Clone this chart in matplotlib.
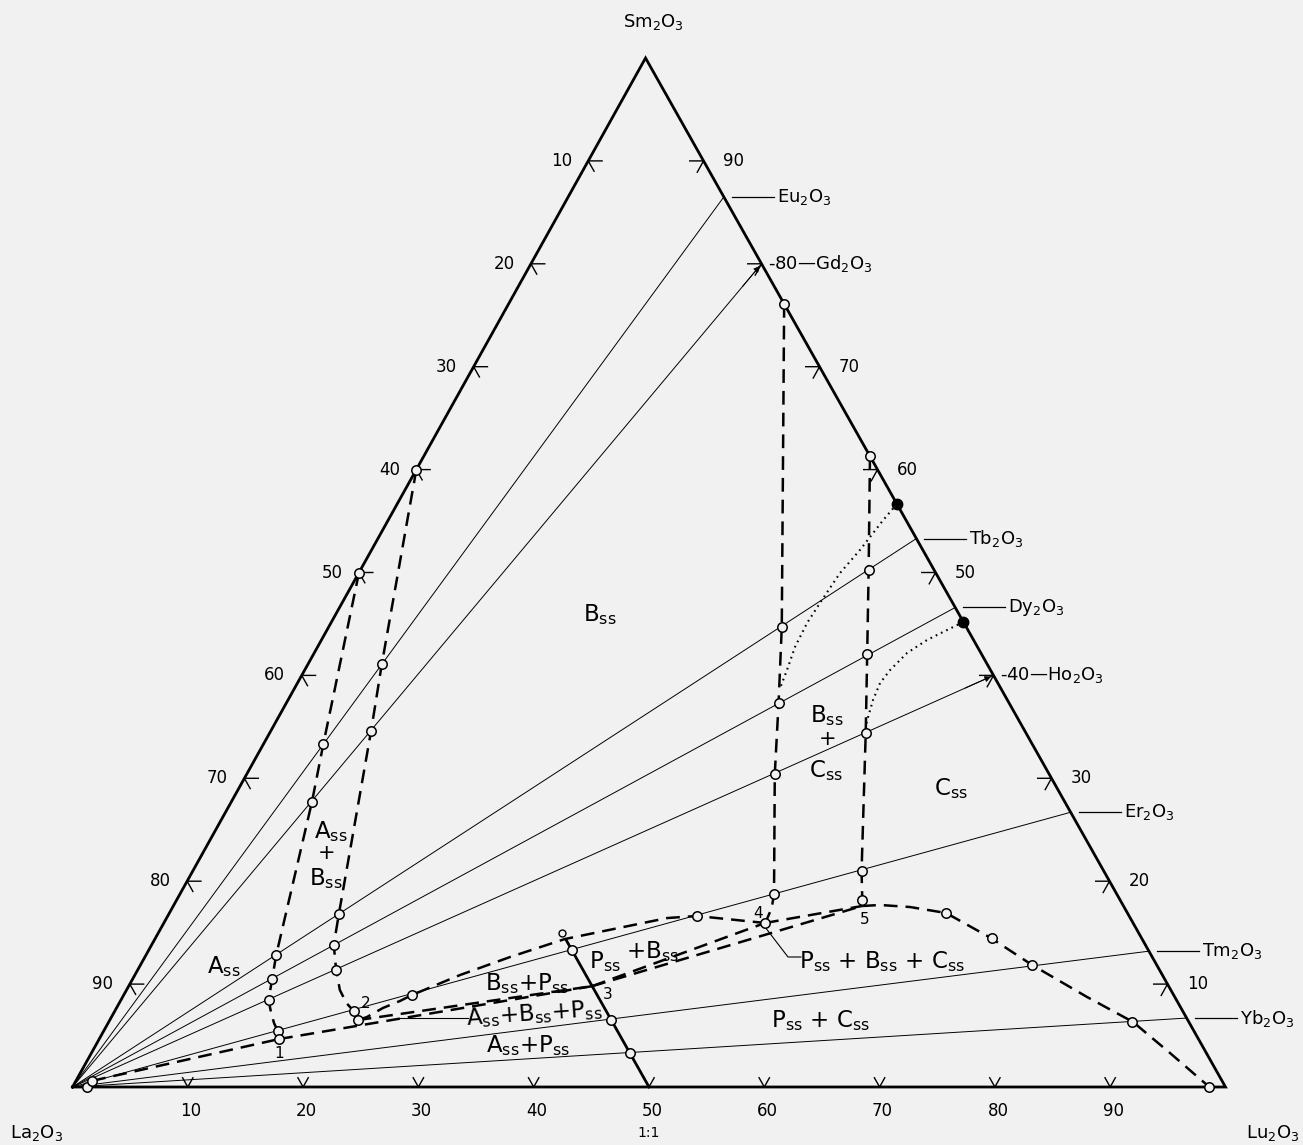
import numpy as np
import matplotlib
matplotlib.use('Agg')
import matplotlib.pyplot as plt

plt.rcParams['font.family'] = ['DejaVu Sans']
plt.rcParams['mathtext.default'] = 'regular'

# every composition below is (mol % Lu2O3, mol % Sm2O3); La2O3 is the rest

# La2O3-R2O3 joins, given by Sm2O3 % where they meet the Sm2O3-Lu2O3 side
re_names = ['Eu', 'Gd', 'Tb', 'Dy', 'Ho', 'Er', 'Tm', 'Yb']
re_sm = [86.5, 80, 53.3, 46.6, 40, 26.7, 13.2, 6.7]

# A_ss / A_ss+B_ss boundary
a_lu = [0, 5.2, 7.0, 11.3, 12.1, 12.8, 13.65, 14.4, 15.1, 15.6]
a_sm = [50, 33.3, 27.7, 12.8, 10.5, 8.45, 7.2, 6.2, 5.44, 4.66]

# B_ss / A_ss+B_ss boundary
b_lu = [0, 6.4, 8.7, 14.75, 15.8, 17.2, 18.5, 19.7, 20.7, 21.5]
b_sm = [60, 41.1, 34.6, 16.8, 13.8, 11.4, 9.43, 8.16, 7.4, 6.5]

# A_ss edge near La2O3 (from the La2O3-rich point to point 1)
aa_lu = [1.4, 15.6]
aa_sm = [0.6, 4.66]

# B_ss / B_ss+P_ss boundary, point 2 to point 4
bp_lu = [21.5, 22.16, 23.11, 24.25, 25.0, 28.2, 31.67, 35.56, 40.8, 43.42, 45.9, 52.14]
bp_sm = [6.5, 6.8, 7.68, 8.36, 8.94, 10.88, 12.63, 14.38, 15.74, 16.42, 16.62, 15.94]

# invariant points 1..5
inv_lu = [15.6, 21.5, 40.2, 52.14, 59.74]
inv_sm = [4.66, 6.5, 9.8, 15.94, 17.59]

# B_ss / B_ss+C_ss boundary
bc_lu = [23.9, 39.3, 42.7, 45.8, 51.5, 52.0, 52.1, 52.14]
bc_sm = [76.1, 44.7, 37.3, 30.4, 18.8, 17.4, 16.5, 15.94]

# C_ss / B_ss+C_ss boundary
cb_lu = [38.7, 44.1, 48.0, 51.7, 58.0, 59.45, 59.74]
cb_sm = [61.3, 50.2, 42.1, 34.4, 21.0, 18.2, 17.59]

# C_ss / P_ss+C_ss boundary
cp_lu = [59.74, 61.25, 63.95, 67.36, 72.46, 77.33, 83.64, 88.84, 93.55, 98.6]
cp_sm = [17.59, 17.69, 17.49, 16.91, 14.48, 11.86, 8.75, 6.32, 3.30, 0]

# perovskite join La(Lu,Sm)O3
p_lu = [50, 35.8]
p_sm = [0, 14.2]

# dotted boundaries from the filled points
dot1_lu = [43.34, 42.93, 42.36, 41.74, 41.45, 41.30, 41.41, 41.83, 42.1]
dot1_sm = [56.66, 55.10, 52.19, 49.95, 47.04, 45.09, 42.76, 40.52, 38.78]
dot2_lu = [54.81, 53.78, 52.52, 51.42, 50.77, 50.53, 50.74, 51.13, 51.34]
dot2_sm = [45.19, 44.41, 43.44, 42.18, 40.52, 39.26, 37.61, 35.96, 35.18]
filled_lu = [43.34, 54.81]
filled_sm = [56.66, 45.19]

# open circles (experimental compositions)
open_lu = [1.3, 1.4,
           0, 5.2, 7.0, 11.3, 12.1, 12.8, 15.1, 15.6,
           0, 6.4, 8.7, 14.75, 15.8, 17.2, 20.7, 21.5,
           25.0, 45.9, 52.14,
           36.7, 43.5, 46.7,
           23.9, 39.3, 42.7, 45.8, 51.5,
           38.7, 44.1, 48.0, 51.7, 58.0, 59.45,
           67.4, 72.5, 77.3, 88.8, 98.6]
open_sm = [0, 0.6,
           50, 33.3, 27.7, 12.8, 10.5, 8.45, 5.44, 4.66,
           60, 41.1, 34.6, 16.8, 13.8, 11.4, 7.4, 6.5,
           8.94, 16.6, 15.94,
           13.3, 6.5, 3.3,
           76.1, 44.7, 37.3, 30.4, 18.8,
           61.3, 50.2, 42.1, 34.4, 21.0, 18.2,
           16.9, 14.5, 11.9, 6.3, 0]
small_lu = [35.0]
small_sm = [15.0]

ticks = [10, 20, 30, 40, 50, 60, 70, 80, 90]

BG = '#f1f1f1'
APEX = 0.497  # the drawn apex sits slightly left of centre


def tern(lu, sm):
    lu = np.asarray(lu, dtype=float)
    sm = np.asarray(sm, dtype=float)
    return (lu + APEX * sm) / 100.0, sm / 100.0


def px(x, y):
    # page pixel -> axes units, only for placing text
    return (x - 72.5) / 1153.0, (1087 - y) / 1029.0


PX = 1 / 1153.0
PY = 1 / 1029.0

fig = plt.figure(figsize=(13.03, 11.45), dpi=100, facecolor=BG)
ax = fig.add_axes([72.5 / 1303, 58 / 1145, 1153 / 1303, 1029 / 1145])
ax.set_xlim(0, 1)
ax.set_ylim(0, 1)
ax.axis('off')
ax.set_facecolor(BG)

# triangle
x, y = tern([0, 100, 0, 0], [0, 0, 100, 0])
ax.plot(x, y, color='black', lw=2.0, clip_on=False, solid_joinstyle='miter', zorder=3)

# chevron ticks
for t in ticks:
    # left side, La2O3 %
    sm0 = 100 - t
    x, y = tern([1.2, 0, 1.0], [sm0, sm0, sm0 - 1.0])
    ax.plot(x, y, color='black', lw=1.0, clip_on=False, zorder=3)
    lx, ly = tern(0, sm0)
    ax.text(lx - 27 * PX, ly, str(t), fontsize=12, ha='center', va='center')
    # right side, Sm2O3 %
    x, y = tern([100 - t - 1.2, 100 - t, 100 - t], [t, t, t - 1.1])
    ax.plot(x, y, color='black', lw=1.0, clip_on=False, zorder=3)
    if t not in (80, 40):
        rx, ry = tern(100 - t, t)
        ax.text(rx + 30 * PX, ry, str(t), fontsize=12, ha='center', va='center')
    # base, Lu2O3 %
    x, y = tern([t - 0.9, t, t], [0.9, 0, 0.9])
    ax.plot(x, y, color='black', lw=1.0, clip_on=False, zorder=3)
    bx, by = tern(t, 0)
    ax.text(bx + 3 * PX, by - 24 * PY, str(t), fontsize=12, ha='center', va='center')

# La2O3-R2O3 joins and their labels
for name, s in zip(re_names, re_sm):
    x, y = tern([0, 100 - s], [0, s])
    ax.plot(x, y, color='black', lw=0.7, zorder=2)
    ex, ey = tern(100 - s, s)
    lab = name + '$_2$O$_3$'
    if s in (80, 40):
        ux, uy = ex / np.hypot(ex, ey), ey / np.hypot(ex, ey)
        ax.annotate('', xy=(ex, ey), xytext=(ex - 0.03 * ux, ey - 0.03 * uy),
                    arrowprops=dict(arrowstyle='-|>', lw=0.7, color='black', mutation_scale=9))
        ax.text(ex + 6 * PX, ey, '-%d\u2014%s' % (s, lab), fontsize=13, ha='left', va='center')
    else:
        ax.plot([ex + 8 * PX, ex + 50 * PX], [ey, ey], color='black', lw=0.9, clip_on=False)
        ax.text(ex + 53 * PX, ey, lab, fontsize=13, ha='left', va='center')

dash = (0, (5.5, 3.2))
dash_kw = dict(color='black', lw=1.8, linestyle=dash, zorder=4)

for lu, sm in [(a_lu, a_sm), (b_lu, b_sm), (aa_lu, aa_sm), (bp_lu, bp_sm),
               (bc_lu, bc_sm), (cb_lu, cb_sm), (cp_lu, cp_sm)]:
    ax.plot(*tern(lu, sm), **dash_kw)

# three phase triangles: 1-2-3 and 3-4-5
for i, j in [(0, 2), (1, 2), (2, 3), (3, 4), (2, 4)]:
    ax.plot(*tern([inv_lu[i], inv_lu[j]], [inv_sm[i], inv_sm[j]]), **dash_kw)

# perovskite join
ax.plot(*tern(p_lu, p_sm), color='black', lw=2.0, zorder=4, clip_on=False)

# dotted boundaries
for lu, sm in [(dot1_lu, dot1_sm), (dot2_lu, dot2_sm)]:
    ax.plot(*tern(lu, sm), color='black', lw=1.5, linestyle=(0, (0.8, 2.0)), zorder=4)

ax.plot(*tern(open_lu, open_sm), 'o', ms=6.8, mfc=BG, mec='black', mew=1.1, zorder=6, clip_on=False)
ax.plot(*tern(small_lu, small_sm), 'o', ms=5, mfc=BG, mec='black', mew=1.0, zorder=6)
ax.plot(*tern(filled_lu, filled_sm), 'o', ms=7.5, color='black', zorder=6)

# corner and axis names
ax.text(*px(653, 22), 'Sm$_2$O$_3$', fontsize=13, ha='center', va='center')
ax.text(*px(37, 1133), 'La$_2$O$_3$', fontsize=13, ha='center', va='center')
ax.text(*px(1273, 1133), 'Lu$_2$O$_3$', fontsize=13, ha='center', va='center')
ax.text(*px(649, 1133), '1:1', fontsize=10, ha='center', va='center')

# phase field labels (baseline positions)
big = 16.5
phase_labels = [
    ((600, 621), 'B$_{ss}$', 0),
    ((224, 973), 'A$_{ss}$', 0),
    ((331, 838), 'A$_{ss}$', 0),
    ((326, 885), 'B$_{ss}$', 0),
    ((527, 990), 'B$_{ss}$+P$_{ss}$', 0),
    ((605, 968), 'P$_{ss}$', 0),
    ((652, 958), '+B$_{ss}$', 0),
    ((534, 1025), 'A$_{ss}$+B$_{ss}$+P$_{ss}$', 4),
    ((528, 1052), 'A$_{ss}$+P$_{ss}$', 0),
    ((821, 1027), 'P$_{ss}$ + C$_{ss}$', 0),
    ((882, 968), 'P$_{ss}$ + B$_{ss}$ + C$_{ss}$', 0),
    ((827, 722), 'B$_{ss}$', 0),
    ((826, 777), 'C$_{ss}$', 0),
    ((951, 795), 'C$_{ss}$', 0),
]
for (xx, yy), s, rot in phase_labels:
    ax.text(*px(xx, yy), s, fontsize=big, ha='center', va='baseline', rotation=rot)
ax.text(*px(327, 853), '+', fontsize=15, ha='center', va='center')
ax.text(*px(828, 739), '+', fontsize=15, ha='center', va='center')

# leader lines for the narrow fields
lx, ly = px(398, 1018)
lx2, ly2 = px(468, 1018)
ax.plot([lx, lx2], [ly, ly2], color='black', lw=0.8)
pts = [px(765, 927), px(788, 957), px(801, 957)]
ax.plot([p[0] for p in pts], [p[1] for p in pts], color='black', lw=0.8)

# invariant point numbers
for (xx, yy), s in [((279, 1058), '1'), ((366, 1008), '2'), ((608, 999), '3'),
                    ((758, 918), '4'), ((865, 924), '5')]:
    ax.text(*px(xx, yy), s, fontsize=11, ha='center', va='baseline')

fig.savefig('out.png', dpi=100, facecolor=BG)
